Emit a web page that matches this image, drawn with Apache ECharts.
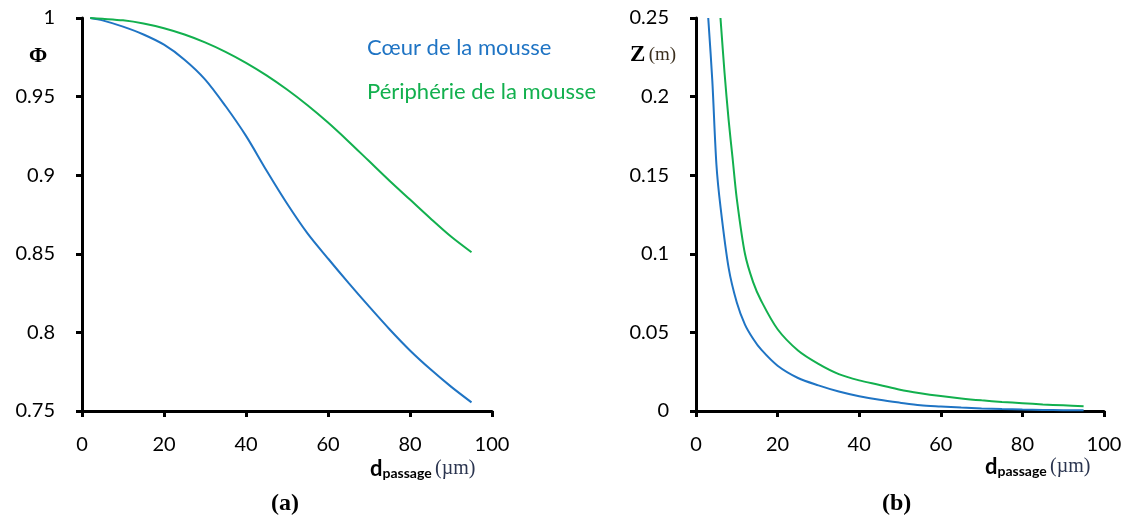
<!DOCTYPE html>
<html>
<head>
<meta charset="utf-8">
<script src="https://cdn.jsdelivr.net/npm/echarts@6/dist/echarts.min.js"></script>
<style>
  html, body { margin: 0; padding: 0; background: #fff; }
  #chart { width: 1128px; height: 520px; }
</style>
</head>
<body>
<div id="chart"></div>
<script>
/** données */
// (a) Phi en fonction de d_passage
var dPhi = [2, 5, 10, 15, 20, 25, 30, 35, 40, 45, 50, 55, 60, 65, 70, 75, 80, 85, 90, 95]
var phiCoeur = [1.0, 0.9985, 0.9945, 0.9895, 0.983, 0.9735, 0.961, 0.944, 0.925, 0.903,
	0.882, 0.863, 0.847, 0.8315, 0.8165, 0.802, 0.7885, 0.7765, 0.7655, 0.7555]
var phiPeriph = [1.0, 0.9995, 0.9985, 0.9965, 0.9935, 0.9895, 0.9845, 0.9785, 0.9715, 0.9635,
	0.9545, 0.9445, 0.9335, 0.9215, 0.909, 0.8965, 0.8845, 0.8725, 0.861, 0.851]

// (b) Z (m) en fonction de d_passage
var dZCoeur = [3, 4, 5, 6, 8, 10, 12, 14, 16, 20, 25, 30, 35, 40, 45, 50, 55, 60, 65, 70, 75, 80, 85, 90, 95]
var zCoeur = [0.25, 0.21, 0.157, 0.13, 0.091, 0.069, 0.055, 0.046, 0.039, 0.0288, 0.021, 0.0163,
	0.0124, 0.0094, 0.0071, 0.0053, 0.0037, 0.0029, 0.0022, 0.0016, 0.0012, 0.0009, 0.0007, 0.0005, 0.0004]
var dZPeriph = [6, 7, 8, 9, 10, 12, 14, 16, 20, 25, 30, 35, 40, 45, 50, 55, 60, 65, 70, 75, 80, 85, 90, 95]
var zPeriph = [0.25, 0.215, 0.185, 0.16, 0.135, 0.100, 0.082, 0.070, 0.052, 0.0385, 0.030, 0.0235,
	0.0195, 0.0166, 0.0135, 0.0113, 0.0095, 0.008, 0.0068, 0.0058, 0.005, 0.0042, 0.0036, 0.003]

var xTicks = [0, 20, 40, 60, 80, 100]

var bleu = '#1f74c4'
var vert = '#12b04e'
var police = 'Lato, "Open Sans", sans-serif'
var serif = '"Liberation Serif", serif'

var paires = function(xs, ys) {
	var out = []
	for (var i = 0; i < xs.length; i++) out.push([xs[i], ys[i]])
	return out
}

var axeX = function(idx) {
	return {
		type: 'value', gridIndex: idx,
		min: xTicks[0], max: xTicks[xTicks.length - 1], interval: 20,
		splitLine: { show: false },
		axisLine: { show: true, onZero: false, lineStyle: { color: '#000', width: 3 } },
		axisTick: { show: true, length: 6, lineStyle: { color: '#000', width: 3 } },
		axisLabel: { color: '#000', fontSize: 20, fontFamily: police, margin: 24 }
	}
}

var axeY = function(idx, min, max, interval) {
	return {
		type: 'value', gridIndex: idx,
		min: min, max: max, interval: interval,
		splitLine: { show: false },
		axisLine: { show: true, onZero: false, lineStyle: { color: '#000', width: 3 } },
		axisTick: { show: true, length: 6, lineStyle: { color: '#000', width: 3 } },
		axisLabel: { color: '#000', fontSize: 20, fontFamily: police, margin: 27 }
	}
}

var courbe = function(idx, data, couleur) {
	return {
		type: 'line', xAxisIndex: idx, yAxisIndex: idx,
		data: data, showSymbol: false, smooth: 0.3,
		clip: true, silent: true,
		lineStyle: { color: couleur, width: 2 }
	}
}

var richAxe = {
	d: { fontFamily: police, fontWeight: 'bold', fontSize: 22, fill: '#000' },
	sub: { fontFamily: police, fontWeight: 'bold', fontSize: 14, fill: '#000', padding: [9, 0, 0, 0] },
	u: { fontFamily: serif, fontSize: 20, fill: '#2b3550' }
}

var option = {
	animation: false,
	backgroundColor: '#fff',
	grid: [
		{ left: 82, top: 18, width: 410, height: 393 },
		{ left: 696, top: 18, width: 408, height: 393 }
	],
	xAxis: [axeX(0), axeX(1)],
	yAxis: [axeY(0, 0.75, 1, 0.05), axeY(1, 0, 0.25, 0.05)],
	series: [
		courbe(0, paires(dPhi, phiCoeur), bleu),
		courbe(0, paires(dPhi, phiPeriph), vert),
		courbe(1, paires(dZCoeur, zCoeur), bleu),
		courbe(1, paires(dZPeriph, zPeriph), vert)
	],
	graphic: [
		// légende
		{ type: 'text', left: 367, top: 37, style: { text: 'Cœur de la mousse', fill: bleu, fontFamily: police, fontSize: 22 } },
		{ type: 'text', left: 367, top: 81, style: { text: 'Périphérie de la mousse', fill: vert, fontFamily: police, fontSize: 22 } },
		// noms des axes
		{ type: 'text', left: 29, top: 45, style: { text: 'Φ', fill: '#000', fontFamily: serif, fontWeight: 'bold', fontSize: 22 } },
		{ type: 'text', left: 630, top: 44, style: {
			text: '{z|Z} {u|(m)}',
			rich: {
				z: { fontFamily: serif, fontWeight: 'bold', fontSize: 23, fill: '#000' },
				u: { fontFamily: serif, fontSize: 19, fill: '#3b2f1e' }
			}
		} },
		{ type: 'text', left: 370, top: 458, style: { text: '{d|d}{sub|passage} {u|(µm)}', rich: richAxe } },
		{ type: 'text', left: 985, top: 456, style: { text: '{d|d}{sub|passage} {u|(µm)}', rich: richAxe } },
		// sous-titres
		{ type: 'text', left: 271, top: 492, style: { text: '(a)', fill: '#000', fontFamily: serif, fontWeight: 'bold', fontSize: 24 } },
		{ type: 'text', left: 882, top: 492, style: { text: '(b)', fill: '#000', fontFamily: serif, fontWeight: 'bold', fontSize: 24 } }
	]
}

var myChart = echarts.init(document.getElementById('chart'))
myChart.setOption(option)
</script>
</body>
</html>
